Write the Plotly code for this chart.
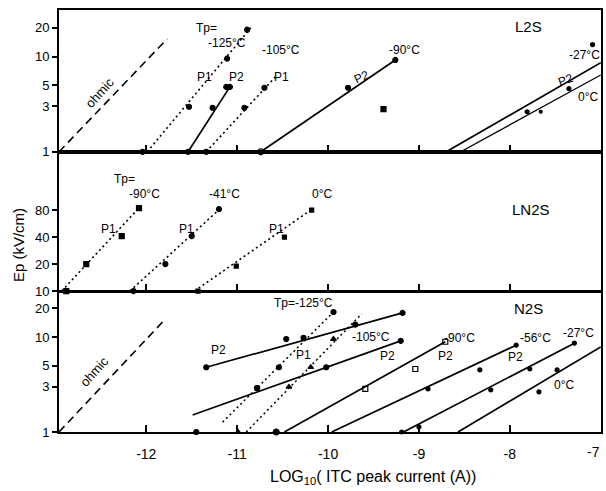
import numpy as np
import plotly.graph_objects as go

# ---------------- tick data ----------------
X_TICKS = [-12, -11, -10, -9, -8, -7]
X_TICK_LABELS = ["-12", "-11", "-10", "-9", "-8", "-7"]
Y_TICKS_L2S = [1, 3, 5, 10, 20]
Y_TICKS_LN2S = [10, 20, 40, 80]
Y_TICKS_N2S = [1, 3, 5, 10, 20]

# ---------------- L2S (top panel) ----------------
L2S_ohmic_line_x = [-12.96, -11.77]
L2S_ohmic_line_y = [1.0, 15.3]
L2S_125P1_line_x = [-11.99, -10.85]
L2S_125P1_line_y = [1.0, 20.0]
L2S_125P1_pts_x = [-12.04, -11.53, -11.11, -10.89]
L2S_125P1_pts_y = [1.0, 2.97, 9.5, 19.1]
L2S_125P2_line_x = [-11.54, -11.08]
L2S_125P2_line_y = [1.0, 4.8]
L2S_125P2_pts_x = [-11.54, -11.27, -11.12, -11.08]
L2S_125P2_pts_y = [1.0, 2.9, 4.8, 4.8]
L2S_105P1_line_x = [-11.34, -10.56]
L2S_105P1_line_y = [1.0, 6.4]
L2S_105P1_pts_x = [-11.34, -10.92, -10.70]
L2S_105P1_pts_y = [1.0, 2.9, 4.7]
L2S_90P2_line_x = [-10.74, -9.26]
L2S_90P2_line_y = [1.0, 9.2]
L2S_90P2_pts_x = [-9.78, -9.26]
L2S_90P2_pts_y = [4.7, 9.2]
L2S_90P2_open_x = [-10.74]
L2S_90P2_open_y = [1.0]
L2S_90_sq_x = [-9.39]
L2S_90_sq_y = [2.8]
L2S_27P2_line_x = [-8.70, -7.0]
L2S_27P2_line_y = [1.0, 8.6]
L2S_27P2_pts_x = [-7.81, -7.35, -7.09]
L2S_27P2_pts_y = [2.63, 4.6, 13.3]
L2S_0_line_x = [-8.54, -7.0]
L2S_0_line_y = [1.0, 6.4]
L2S_0_pts_x = [-7.66]
L2S_0_pts_y = [2.63]

# ---------------- LN2S (middle panel) ----------------
LN2S_90P1_line_x = [-12.93, -12.06]
LN2S_90P1_line_y = [10.0, 89.0]
LN2S_90P1_pts_x = [-12.88, -12.66, -12.27, -12.08]
LN2S_90P1_pts_y = [10.0, 20.0, 41.0, 84.0]
LN2S_41P1_line_x = [-12.18, -11.17]
LN2S_41P1_line_y = [10.0, 86.0]
LN2S_41P1_pts_x = [-12.14, -11.79, -11.50, -11.20]
LN2S_41P1_pts_y = [10.0, 20.0, 41.0, 82.0]
LN2S_0P1_line_x = [-11.47, -10.16]
LN2S_0P1_line_y = [10.0, 84.0]
LN2S_0P1_pts_x = [-11.43, -11.01, -10.48, -10.18]
LN2S_0P1_pts_y = [10.0, 19.0, 40.0, 80.0]

# ---------------- N2S (bottom panel) ----------------
N2S_ohmic_line_x = [-12.96, -11.82]
N2S_ohmic_line_y = [1.0, 14.4]
N2S_125P2_line_x = [-11.34, -9.18]
N2S_125P2_line_y = [4.8, 17.9]
N2S_125P2_pts_x = [-11.34, -10.46, -10.27, -9.70, -9.18]
N2S_125P2_pts_y = [4.8, 9.5, 9.8, 13.5, 17.9]
N2S_125P1_line_x = [-11.16, -9.94]
N2S_125P1_line_y = [1.27, 18.3]
N2S_125P1_pts_x = [-10.78, -10.54, -9.94]
N2S_125P1_pts_y = [2.9, 4.8, 18.3]
N2S_105P1_line_x = [-10.90, -9.63]
N2S_105P1_line_y = [1.0, 17.5]
N2S_105P1_pts_x = [-10.99, -10.43, -10.19, -9.94]
N2S_105P1_pts_y = [1.0, 2.98, 4.8, 9.5]
N2S_105P2_line_x = [-11.49, -9.20]
N2S_105P2_line_y = [1.51, 9.1]
N2S_105P2_pts_x = [-11.45, -10.78, -10.02, -9.20]
N2S_105P2_pts_y = [1.0, 2.9, 4.8, 9.1]
N2S_90P2_line_x = [-10.48, -8.71]
N2S_90P2_line_y = [1.0, 8.9]
N2S_90P2_pts_x = [-10.57]
N2S_90P2_pts_y = [1.0]
N2S_90P2_sq_x = [-9.59, -9.04, -8.71]
N2S_90P2_sq_y = [2.84, 4.6, 8.9]
N2S_56P2_line_x = [-9.96, -7.93]
N2S_56P2_line_y = [1.0, 8.2]
N2S_56P2_pts_x = [-8.90, -8.33, -7.93]
N2S_56P2_pts_y = [2.84, 4.5, 8.2]
N2S_27_line_x = [-9.17, -7.29]
N2S_27_line_y = [1.0, 8.6]
N2S_27_pts_x = [-9.19, -9.0, -8.21, -7.78, -7.29]
N2S_27_pts_y = [1.0, 1.13, 2.77, 4.6, 8.6]
N2S_0_line_x = [-8.57, -7.0]
N2S_0_line_y = [1.0, 7.85]
N2S_0_pts_x = [-7.68, -7.48]
N2S_0_pts_y = [2.64, 4.5]

FONT = "Liberation Sans"
AX = {"top": ("x3", "y3"), "mid": ("x2", "y2"), "bot": ("x", "y")}

fig = go.Figure()


def line(xs, ys, panel, dash="solid", width=1.7):
    xa, ya = AX[panel]
    fig.add_trace(go.Scatter(x=xs, y=ys, mode="lines", xaxis=xa, yaxis=ya,
                             line=dict(color="black", width=width, dash=dash),
                             showlegend=False, hoverinfo="skip", cliponaxis=False))


def pts(xs, ys, panel, symbol="circle", size=5):
    xa, ya = AX[panel]
    fig.add_trace(go.Scatter(x=xs, y=ys, mode="markers", xaxis=xa, yaxis=ya,
                             marker=dict(color="black", size=size, symbol=symbol,
                                         line=dict(color="black", width=1.2)),
                             showlegend=False, hoverinfo="skip", cliponaxis=False))


DOT = "2px,3px"
DASH = "8px,5px"

# top
line(L2S_ohmic_line_x, L2S_ohmic_line_y, "top", DASH, 1.6)
line(L2S_125P1_line_x, L2S_125P1_line_y, "top", DOT, 1.6)
pts(L2S_125P1_pts_x, L2S_125P1_pts_y, "top")
line(L2S_125P2_line_x, L2S_125P2_line_y, "top")
pts(L2S_125P2_pts_x, L2S_125P2_pts_y, "top")
line(L2S_105P1_line_x, L2S_105P1_line_y, "top", DOT, 1.6)
pts(L2S_105P1_pts_x, L2S_105P1_pts_y, "top")
line(L2S_90P2_line_x, L2S_90P2_line_y, "top")
pts(L2S_90P2_pts_x, L2S_90P2_pts_y, "top")
pts(L2S_90P2_open_x, L2S_90P2_open_y, "top", "circle-open", 6)
pts(L2S_90_sq_x, L2S_90_sq_y, "top", "square", 5)
line(L2S_27P2_line_x, L2S_27P2_line_y, "top")
pts(L2S_27P2_pts_x, L2S_27P2_pts_y, "top", "circle", 4)
line(L2S_0_line_x, L2S_0_line_y, "top", width=1.3)
pts(L2S_0_pts_x, L2S_0_pts_y, "top", "circle", 3)

# middle
line(LN2S_90P1_line_x, LN2S_90P1_line_y, "mid", DOT, 1.6)
pts(LN2S_90P1_pts_x, LN2S_90P1_pts_y, "mid", "square", 5)
line(LN2S_41P1_line_x, LN2S_41P1_line_y, "mid", DOT, 1.6)
pts(LN2S_41P1_pts_x, LN2S_41P1_pts_y, "mid")
line(LN2S_0P1_line_x, LN2S_0P1_line_y, "mid", DOT, 1.6)
pts(LN2S_0P1_pts_x, LN2S_0P1_pts_y, "mid", "square", 4)

# bottom
line(N2S_ohmic_line_x, N2S_ohmic_line_y, "bot", DASH, 1.6)
line(N2S_125P2_line_x, N2S_125P2_line_y, "bot")
pts(N2S_125P2_pts_x, N2S_125P2_pts_y, "bot")
line(N2S_125P1_line_x, N2S_125P1_line_y, "bot", DOT, 1.5)
pts(N2S_125P1_pts_x, N2S_125P1_pts_y, "bot")
line(N2S_105P1_line_x, N2S_105P1_line_y, "bot", DOT, 1.5)
pts(N2S_105P1_pts_x, N2S_105P1_pts_y, "bot", "triangle-up", 5)
line(N2S_105P2_line_x, N2S_105P2_line_y, "bot")
pts(N2S_105P2_pts_x, N2S_105P2_pts_y, "bot")
line(N2S_90P2_line_x, N2S_90P2_line_y, "bot")
pts(N2S_90P2_pts_x, N2S_90P2_pts_y, "bot", "circle", 6)
pts(N2S_90P2_sq_x, N2S_90P2_sq_y, "bot", "square-open", 5)
line(N2S_56P2_line_x, N2S_56P2_line_y, "bot")
pts(N2S_56P2_pts_x, N2S_56P2_pts_y, "bot", "circle", 4)
line(N2S_27_line_x, N2S_27_line_y, "bot")
pts(N2S_27_pts_x, N2S_27_pts_y, "bot", "circle", 4)
line(N2S_0_line_x, N2S_0_line_y, "bot")
pts(N2S_0_pts_x, N2S_0_pts_y, "bot", "circle", 4)

# ---------------- text labels ----------------
LABELS = [
    # panel, x, y, text, size, angle
    ("top", -11.34, 20.0, "Tp=", 12, 0),
    ("top", -11.11, 13.9, "-125°C", 12, 0),
    ("top", -10.52, 11.8, "-105°C", 12, 0),
    ("top", -11.36, 6.1, "P1", 12, 0),
    ("top", -11.01, 6.1, "P2", 12, 0),
    ("top", -10.51, 6.1, "P1", 12, 0),
    ("top", -9.16, 11.8, "-90°C", 12, 0),
    ("top", -9.63, 6.1, "P2", 12, -25),
    ("top", -7.80, 20.5, "L2S", 15, 0),
    ("top", -7.18, 10.4, "-27°C", 12, 0),
    ("top", -7.39, 5.7, "P2", 12, -20),
    ("top", -7.14, 3.8, "0°C", 12, 0),
    ("top", -12.51, 4.2, "ohmic", 13, -48),
    ("mid", -12.24, 177, "Tp=", 12, 0),
    ("mid", -12.02, 120, "-90°C", 12, 0),
    ("mid", -11.14, 120, "-41°C", 12, 0),
    ("mid", -10.07, 120, "0°C", 12, 0),
    ("mid", -12.42, 49, "P1", 12, 0),
    ("mid", -11.56, 49, "P1", 12, 0),
    ("mid", -10.57, 49, "P1", 12, 0),
    ("mid", -7.77, 82, "LN2S", 15, 0),
    ("bot", -10.27, 22.8, "Tp=-125°C", 12, 0),
    ("bot", -11.20, 7.3, "P2", 12, 0),
    ("bot", -10.27, 6.5, "P1", 12, 0),
    ("bot", -9.53, 10.0, "-105°C", 12, 0),
    ("bot", -9.35, 6.3, "P2", 12, 0),
    ("bot", -8.55, 9.8, "-90°C", 12, 0),
    ("bot", -8.71, 6.3, "P2", 12, 0),
    ("bot", -7.72, 9.8, "-56°C", 12, 0),
    ("bot", -7.94, 6.2, "P2", 12, 0),
    ("bot", -7.25, 11.0, "-27°C", 12, 0),
    ("bot", -7.40, 3.1, "0°C", 12, 0),
    ("bot", -7.80, 19.7, "N2S", 15, 0),
    ("bot", -12.57, 4.3, "ohmic", 13, -48),
]

annotations = []
for panel, x, y, txt, size, ang in LABELS:
    xa, ya = AX[panel]
    annotations.append(dict(x=x, y=float(np.log10(y)), xref=xa, yref=ya, text=txt,
                            showarrow=False, textangle=ang,
                            font=dict(family=FONT, size=size, color="black")))

# last x tick label sits at the right edge: draw it right-aligned so it is not hidden
annotations.append(dict(x=X_TICKS[-1], y=-0.048, xref="x", yref="paper",
                        text=X_TICK_LABELS[-1], showarrow=False, xanchor="right",
                        yanchor="middle", xshift=1,
                        font=dict(family=FONT, size=14, color="black")))

annotations.append(dict(x=-0.095, y=0.443, xref="paper", yref="paper",
                        text="Ep (kV/cm)", textangle=-90, showarrow=False,
                        font=dict(family=FONT, size=15, color="black")))
annotations.append(dict(x=0.58, y=-0.108, xref="paper", yref="paper",
                        text="LOG<sub>10</sub>( ITC peak current (A))", showarrow=False,
                        yanchor="middle",
                        font=dict(family=FONT, size=16, color="black")))

xcommon = dict(range=[-12.96, -6.997],
               ticks="inside", ticklen=7, tickwidth=1.5, tickcolor="black",
               showline=True, linecolor="black", linewidth=2, mirror=True,
               showgrid=False, zeroline=False,
               tickfont=dict(family=FONT, size=14, color="black"))
ycommon = dict(type="log", ticks="outside", ticklen=5, tickwidth=1.5, tickcolor="black",
               showline=True, linecolor="black", linewidth=2, mirror=True,
               showgrid=False, zeroline=False,
               tickfont=dict(family=FONT, size=13, color="black"))

fig.update_layout(
    width=606, height=491,
    margin=dict(l=59, r=3, t=10, b=59),
    paper_bgcolor="white", plot_bgcolor="white",
    xaxis=dict(anchor="y", ticklabelstandoff=8, tickvals=X_TICKS[:-1],
               ticktext=X_TICK_LABELS[:-1], **xcommon),
    xaxis2=dict(anchor="y2", matches="x", showticklabels=False, tickvals=X_TICKS, **xcommon),
    xaxis3=dict(anchor="y3", matches="x", showticklabels=False, tickvals=X_TICKS, **xcommon),
    yaxis=dict(domain=[0, 0.332], range=[0, 1.474], tickvals=Y_TICKS_N2S,
               ticktext=[str(v) for v in Y_TICKS_N2S], **ycommon),
    yaxis2=dict(domain=[0.334, 0.664], range=[1, 2.553], tickvals=Y_TICKS_LN2S,
                ticktext=[str(v) for v in Y_TICKS_LN2S], **ycommon),
    yaxis3=dict(domain=[0.664, 1.0], range=[0, 1.488], tickvals=Y_TICKS_L2S,
                ticktext=[str(v) for v in Y_TICKS_L2S], **ycommon),
    annotations=annotations,
)

fig.write_html("out.html")
